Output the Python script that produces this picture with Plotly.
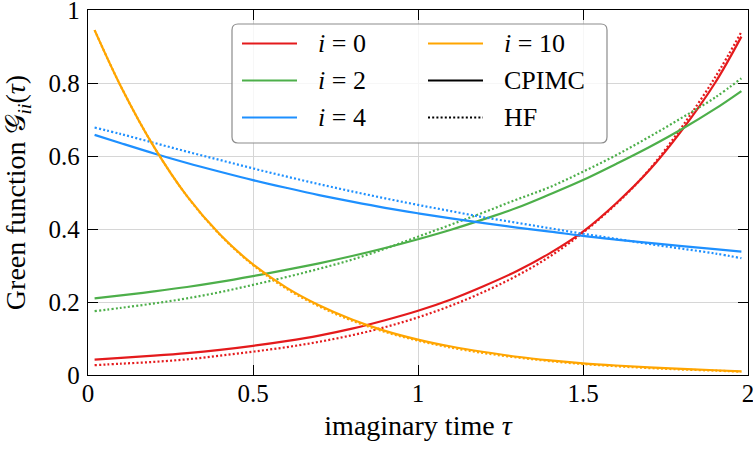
import plotly.graph_objects as go

# ---------------- data ----------------
tau = [0.02, 0.1, 0.2, 0.3, 0.4, 0.5, 0.6, 0.7, 0.8, 0.9, 1.0,
       1.1, 1.2, 1.3, 1.4, 1.5, 1.6, 1.7, 1.8, 1.9, 1.98]

g0_cpimc = [0.042, 0.047, 0.053, 0.060, 0.069, 0.080, 0.093, 0.108, 0.127, 0.150, 0.176,
            0.207, 0.244, 0.285, 0.334, 0.393, 0.470, 0.560, 0.671, 0.800, 0.927]
g0_hf = [0.027, 0.031, 0.036, 0.043, 0.053, 0.064, 0.076, 0.091, 0.109, 0.131, 0.158,
         0.190, 0.228, 0.272, 0.325, 0.390, 0.468, 0.562, 0.680, 0.815, 0.940]

g2_cpimc = [0.210, 0.218, 0.229, 0.241, 0.255, 0.271, 0.288, 0.306, 0.326, 0.348, 0.372,
            0.398, 0.427, 0.458, 0.495, 0.534, 0.578, 0.624, 0.674, 0.729, 0.778]
g2_hf = [0.175, 0.184, 0.196, 0.210, 0.227, 0.247, 0.268, 0.291, 0.316, 0.346, 0.379,
         0.412, 0.446, 0.481, 0.515, 0.557, 0.602, 0.652, 0.705, 0.760, 0.813]

g4_cpimc = [0.658, 0.635, 0.607, 0.581, 0.557, 0.534, 0.513, 0.493, 0.475, 0.458, 0.443,
            0.429, 0.416, 0.404, 0.393, 0.381, 0.371, 0.362, 0.353, 0.345, 0.338]
g4_hf = [0.678, 0.660, 0.636, 0.612, 0.589, 0.566, 0.544, 0.523, 0.503, 0.484, 0.466,
         0.449, 0.432, 0.417, 0.402, 0.387, 0.373, 0.359, 0.346, 0.333, 0.320]

g10_cpimc = [0.945, 0.790, 0.625, 0.490, 0.385, 0.303, 0.240, 0.191, 0.152, 0.121, 0.097,
             0.078, 0.063, 0.050, 0.040, 0.032, 0.026, 0.021, 0.017, 0.013, 0.010]
g10_hf = [0.945, 0.790, 0.625, 0.490, 0.384, 0.301, 0.237, 0.188, 0.149, 0.118, 0.094,
          0.075, 0.060, 0.048, 0.038, 0.030, 0.024, 0.019, 0.015, 0.012, 0.009]

x_ticks = [0, 0.5, 1, 1.5, 2]
x_tick_labels = ["0", "0.5", "1", "1.5", "2"]
y_ticks = [0, 0.2, 0.4, 0.6, 0.8, 1]
y_tick_labels = ["0", "0.2", "0.4", "0.6", "0.8", "1"]

series_names = ["<i>i</i> = 0", "<i>i</i> = 2", "<i>i</i> = 4", "<i>i</i> = 10"]
series_cpimc = [g0_cpimc, g2_cpimc, g4_cpimc, g10_cpimc]
series_hf = [g0_hf, g2_hf, g4_hf, g10_hf]
colors = ["#e41a1c", "#4daf4a", "#1e90ff", "#ffa500"]

FONT = "Liberation Serif"
FS_TICK = 25
FS_LEG = 26
FS_TITLE = 28
LW = 2.2
HF_DASH = "2px,2.2px"

fig = go.Figure()
for name, yc, yh, c in zip(series_names, series_cpimc, series_hf, colors):
    fig.add_trace(go.Scatter(x=tau, y=yh, mode="lines", name=name + " HF",
                             line=dict(color=c, width=LW, dash=HF_DASH, shape="spline"),
                             showlegend=False))
    fig.add_trace(go.Scatter(x=tau, y=yc, mode="lines", name=name + " CPIMC",
                             line=dict(color=c, width=LW, shape="spline"),
                             showlegend=False))

W, H = 753, 450
L, R, T, B = 88, 5, 10, 75
pw, ph = W - L - R, H - T - B


def px2paper(px, py):
    return (px - L) / pw, (H - B - py) / ph


# ---------------- legend (drawn in paper coordinates) ----------------
x0, y0 = px2paper(232, 143)
x1, y1 = px2paper(607, 24)
rx, ry = 6 / pw, 6 / ph
path = (f"M {x0+rx},{y0} L {x1-rx},{y0} Q {x1},{y0} {x1},{y0+ry} "
        f"L {x1},{y1-ry} Q {x1},{y1} {x1-rx},{y1} L {x0+rx},{y1} "
        f"Q {x0},{y1} {x0},{y1-ry} L {x0},{y0+ry} Q {x0},{y0} {x0+rx},{y0} Z")
fig.add_shape(type="path", path=path, xref="paper", yref="paper", layer="above",
              fillcolor="rgba(255,255,255,0.8)", line=dict(color="#8c8c8c", width=1.2))

legend_entries = [
    (series_names[0], colors[0], "solid"),
    (series_names[1], colors[1], "solid"),
    (series_names[2], colors[2], "solid"),
    (series_names[3], colors[3], "solid"),
    ("CPIMC", "black", "solid"),
    ("HF", "black", HF_DASH),
]
rows_py = [43.5, 80.5, 117.5]
cols = [(242, 297, 316), (428, 483, 502)]
for k, (label, c, dash) in enumerate(legend_entries):
    col, row = divmod(k, 3)
    lx0, lx1, tx = cols[col]
    py = rows_py[row]
    a, b_ = px2paper(lx0, py)
    c2, _ = px2paper(lx1, py)
    fig.add_shape(type="line", xref="paper", yref="paper", layer="above",
                  x0=a, x1=c2, y0=b_, y1=b_, line=dict(color=c, width=LW, dash=dash))
    tx_p, ty_p = px2paper(tx, py)
    fig.add_annotation(x=tx_p, y=ty_p, xref="paper", yref="paper", text=label,
                       showarrow=False, xanchor="left", yanchor="middle",
                       font=dict(family=FONT, size=FS_LEG, color="black"))

axis_common = dict(showline=True, linecolor="black", linewidth=1.3, mirror="ticks",
                   ticks="inside", ticklen=10, tickwidth=1.2, tickcolor="black",
                   showgrid=True, gridcolor="#d6d6d6", gridwidth=1, zeroline=False,
                   ticklabeloverflow="allow",
                   tickfont=dict(family=FONT, size=FS_TICK, color="black"))

fig.update_layout(
    width=W, height=H,
    margin=dict(l=L, r=R, t=T, b=B),
    plot_bgcolor="white", paper_bgcolor="white",
    font=dict(family=FONT, size=FS_TICK, color="black"),
    showlegend=False,
    xaxis=dict(range=[0, 2], tickvals=x_ticks, ticktext=x_tick_labels,
               ticklabelstandoff=-4,
               title=dict(text="imaginary time <i>τ</i>", standoff=9,
                          font=dict(family=FONT, size=FS_TITLE)),
               automargin=False, **axis_common),
    yaxis=dict(range=[0, 1], tickvals=y_ticks, ticktext=y_tick_labels,
               ticklabelstandoff=2,
               title=dict(text="Green function 𝒢<sub><i>ii</i></sub>(<i>τ</i>)", standoff=14,
                          font=dict(family=FONT, size=FS_TITLE)),
               automargin=False, **axis_common),
)

fig.write_html("out.html", config={"displayModeBar": False},
               post_script="document.body.style.margin='0px';")
